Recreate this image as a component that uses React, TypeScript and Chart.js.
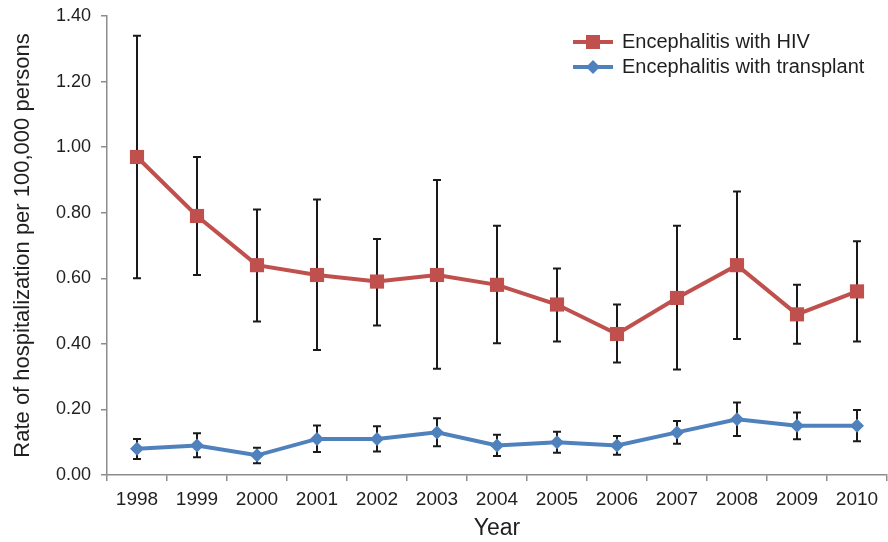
import React, { useEffect, useRef } from "react";
import { Chart, registerables } from "chart.js";

Chart.register(...registerables);

const years = ["1998", "1999", "2000", "2001", "2002", "2003", "2004", "2005", "2006", "2007", "2008", "2009", "2010"];

const hivRate = [0.97, 0.79, 0.64, 0.61, 0.59, 0.61, 0.58, 0.52, 0.43, 0.54, 0.64, 0.49, 0.56];
const hivUpper = [1.34, 0.97, 0.81, 0.84, 0.72, 0.9, 0.76, 0.63, 0.52, 0.76, 0.865, 0.58, 0.713];
const hivLower = [0.6, 0.61, 0.468, 0.381, 0.456, 0.324, 0.402, 0.407, 0.343, 0.322, 0.415, 0.4, 0.407];

const txRate = [0.08, 0.09, 0.06, 0.11, 0.11, 0.13, 0.09, 0.1, 0.09, 0.13, 0.17, 0.15, 0.15];
const txUpper = [0.11, 0.127, 0.083, 0.151, 0.149, 0.173, 0.123, 0.132, 0.119, 0.165, 0.221, 0.191, 0.198];
const txLower = [0.049, 0.054, 0.036, 0.07, 0.072, 0.088, 0.058, 0.068, 0.062, 0.095, 0.119, 0.109, 0.103];

const yTicks = [0, 0.2, 0.4, 0.6, 0.8, 1.0, 1.2, 1.4];

const RED = "#C0504D";
const BLUE = "#4F81BD";
const FONT = "'Liberation Sans', Arial, sans-serif";

const errorBarPlugin = {
  id: "errorBars",
  beforeDatasetsDraw(chart: any) {
    const ctx = chart.ctx;
    const xs = chart.scales.x;
    const ys = chart.scales.y;
    const sets = [
      { up: hivUpper, lo: hivLower },
      { up: txUpper, lo: txLower },
    ];
    ctx.save();
    ctx.strokeStyle = "#1a1a1a";
    ctx.lineWidth = 2;
    sets.forEach((s) => {
      s.up.forEach((u, i) => {
        const x = xs.getPixelForValue(i);
        const yt = ys.getPixelForValue(u);
        const yb = ys.getPixelForValue(s.lo[i]);
        ctx.beginPath();
        ctx.moveTo(x, yt);
        ctx.lineTo(x, yb);
        ctx.moveTo(x - 4, yt);
        ctx.lineTo(x + 4, yt);
        ctx.moveTo(x - 4, yb);
        ctx.lineTo(x + 4, yb);
        ctx.stroke();
      });
    });
    ctx.restore();
  },
};

const legendPlugin = {
  id: "customLegend",
  afterDraw(chart: any) {
    const ctx = chart.ctx;
    const area = chart.chartArea;
    const x0 = area.right - 314;
    const rows = [area.top + 26, area.top + 51];
    ctx.save();
    chart.data.datasets.forEach((ds: any, i: number) => {
      const y = rows[i];
      ctx.strokeStyle = ds.borderColor;
      ctx.lineWidth = 4;
      ctx.beginPath();
      ctx.moveTo(x0, y);
      ctx.lineTo(x0 + 40, y);
      ctx.stroke();
      ctx.fillStyle = ds.borderColor;
      ctx.beginPath();
      if (ds.pointStyle === "rect") {
        ctx.rect(x0 + 13, y - 7, 14, 14);
      } else {
        ctx.moveTo(x0 + 20, y - 7);
        ctx.lineTo(x0 + 27, y);
        ctx.lineTo(x0 + 20, y + 7);
        ctx.lineTo(x0 + 13, y);
        ctx.closePath();
      }
      ctx.fill();
      ctx.fillStyle = "#1f1f1f";
      ctx.font = `20px ${FONT}`;
      ctx.textBaseline = "middle";
      ctx.textAlign = "left";
      ctx.fillText(ds.label, x0 + 49, y);
    });
    ctx.restore();
  },
};

export default function App() {
  const ref = useRef<HTMLCanvasElement | null>(null);

  useEffect(() => {
    document.body.style.margin = "0";
    if (!ref.current) return;
    const chart = new Chart(ref.current, {
      type: "line",
      data: {
        labels: years,
        datasets: [
          {
            label: "Encephalitis with HIV",
            data: hivRate,
            borderColor: RED,
            backgroundColor: RED,
            borderWidth: 4,
            pointStyle: "rect",
            pointRadius: 10,
            pointBorderWidth: 0,
            pointBackgroundColor: RED,
            tension: 0,
          },
          {
            label: "Encephalitis with transplant",
            data: txRate,
            borderColor: BLUE,
            backgroundColor: BLUE,
            borderWidth: 4,
            pointStyle: "rectRot",
            pointRadius: 7,
            pointBorderWidth: 0,
            pointBackgroundColor: BLUE,
            tension: 0,
          },
        ],
      },
      options: {
        responsive: false,
        animation: false,
        layout: { autoPadding: false, padding: { left: 10, right: 1, top: 16, bottom: 0 } },
        plugins: {
          legend: { display: false },
          tooltip: { enabled: false },
        },
        scales: {
          x: {
            offset: true,
            grid: {
              offset: true,
              drawOnChartArea: false,
              drawTicks: true,
              tickLength: 6,
              color: "#8c8c8c",
              lineWidth: 1.5,
            },
            border: { color: "#8c8c8c", width: 1.5 },
            ticks: {
              color: "#1f1f1f",
              font: { family: FONT, size: 19 },
              padding: 7,
              maxRotation: 0,
              autoSkip: false,
            },
            title: {
              display: true,
              text: "Year",
              color: "#1f1f1f",
              font: { family: FONT, size: 23 },
              padding: { top: 2, bottom: 0 },
            },
            afterFit(scale: any) {
              scale.height = 67;
              scale.paddingLeft = 0;
              scale.paddingRight = 0;
            },
          },
          y: {
            min: 0,
            max: 1.4,
            afterBuildTicks(scale: any) {
              scale.ticks = yTicks.map((v) => ({ value: v }));
            },
            grid: {
              drawOnChartArea: false,
              drawTicks: true,
              tickLength: 6,
              color: "#8c8c8c",
              lineWidth: 1.5,
            },
            border: { color: "#8c8c8c", width: 1.5 },
            ticks: {
              color: "#1f1f1f",
              font: { family: FONT, size: 18 },
              padding: 10,
              callback: (v: any) => Number(v).toFixed(2),
            },
            title: {
              display: true,
              text: "Rate of hospitalization per 100,000 persons",
              color: "#1f1f1f",
              font: { family: FONT, size: 22 },
              padding: { top: 0, bottom: 4 },
            },
            afterFit(scale: any) {
              scale.width = 97;
              scale.paddingTop = 0;
              scale.paddingBottom = 0;
            },
          },
        },
      },
      plugins: [errorBarPlugin, legendPlugin],
    });
    return () => chart.destroy();
  }, []);

  return (
    <div style={{ width: 888, height: 542 }}>
      <canvas ref={ref} width={888} height={542} />
    </div>
  );
}
